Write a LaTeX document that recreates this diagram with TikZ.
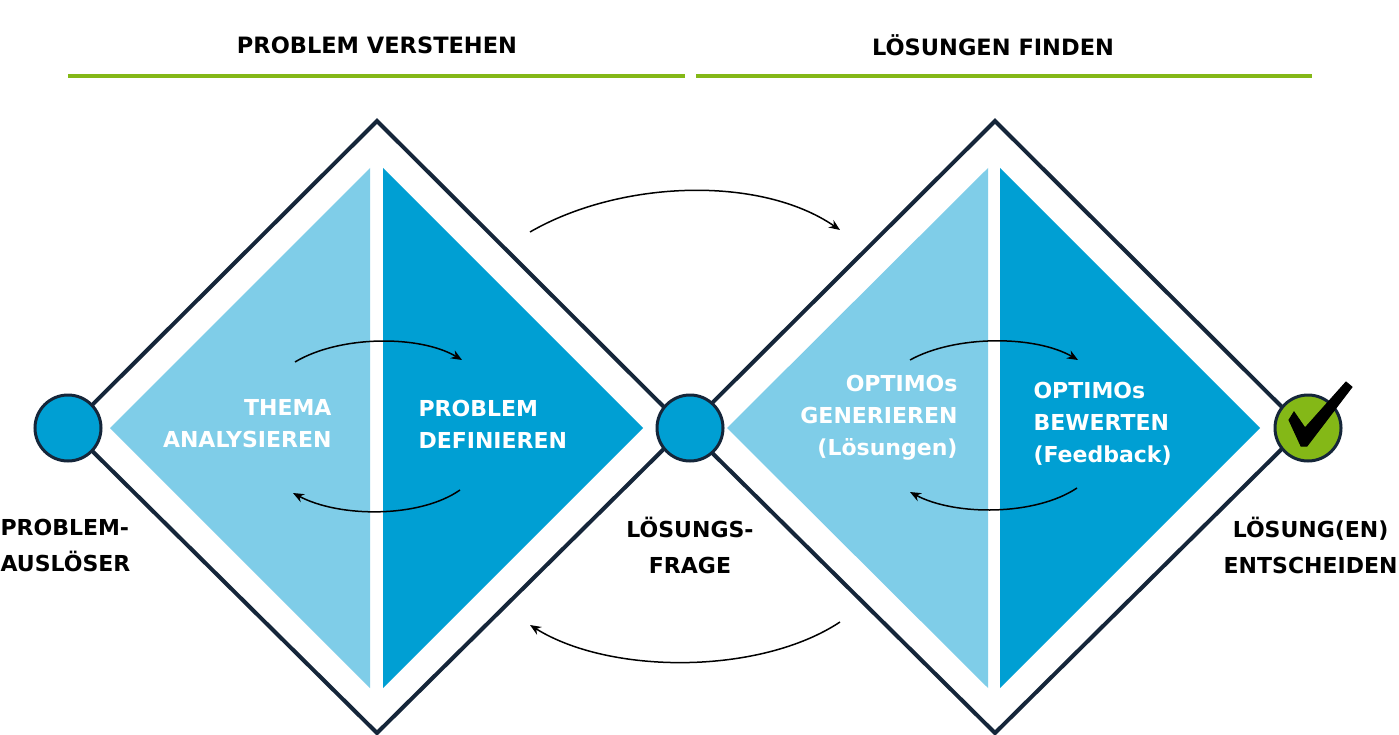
\documentclass[tikz,border=0pt]{standalone}
\usepackage{fontspec}
\setmainfont{DejaVu Sans}
\usetikzlibrary{arrows.meta}
\definecolor{lb}{HTML}{7FCDE8}
\definecolor{db}{HTML}{009FD3}
\definecolor{nv}{HTML}{15263A}
\definecolor{gr}{HTML}{84B817}
\begin{document}
\begin{tikzpicture}[x=1pt,y=-1pt,
  outl/.style={draw=nv,line width=4pt,fill=white},
  dot/.style={circle,draw=nv,line width=3pt,fill=db,minimum size=66pt,inner sep=0},
  intext/.style={text=white,font=\fontsize{22}{32}\selectfont\bfseries,align=center},
  lab/.style={text=black,font=\fontsize{22}{36}\selectfont\bfseries,align=left},
  head/.style={font=\fontsize{22.5}{26}\selectfont\bfseries},
  arr/.style={line width=1.5pt,-{Stealth[length=11pt,width=9pt]}}]
\useasboundingbox (0,0) rectangle (1399,735);
\fill[white] (0,0) rectangle (1399,735);
% headings
\node[head] (h1) at (377,45) {PROBLEM VERSTEHEN};
\node[head] (h2) at (993,45) {LÖSUNGEN FINDEN};
\draw[gr,line width=4pt] (68,76) -- (685,76);
\draw[gr,line width=4pt] (696,76) -- (1312,76);
% diamonds
\draw[outl] (377,121) -- (685,428) -- (377,733) -- (69,428) -- cycle;
\draw[outl] (995,121) -- (1303,428) -- (995,733) -- (687,428) -- cycle;
\fill[lb] (110,428) -- (370,168) -- (370,688) -- cycle;
\fill[db] (383,168) -- (383,688) -- (643,428) -- cycle;
\fill[lb] (727,428) -- (988,168) -- (988,688) -- cycle;
\fill[db] (1000,168) -- (1000,688) -- (1260,428) -- cycle;
% circles
\node[dot] (c1) at (68,428) {};
\node[dot] (c2) at (690,428) {};
\node[dot,fill=gr] (c3) at (1308,428) {};
\draw[black,line width=1pt,fill=black] (1294,412) -- (1305,428) -- (1346,382) -- (1352,387) -- (1307,446) -- (1301,446) -- (1289,420) -- cycle;
% texts
\node[intext,align=right,anchor=east] (t1) at (335,424) {THEMA\\ANALYSIEREN};
\node[intext,align=left,anchor=west] (t2) at (415,424) {PROBLEM\\DEFINIEREN};
\node[intext,align=right,anchor=east] (t3) at (961,418) {OPTIMOs\\GENERIEREN\\(Lösungen)};
\node[intext,align=left,anchor=west] (t4) at (1030,424) {OPTIMOs\\BEWERTEN\\(Feedback)};
\node[lab,anchor=west] (l1) at (-3,545) {PROBLEM-\\AUSLÖSER};
\node[lab,align=center] (l2) at (690,545) {LÖSUNGS-\\FRAGE};
\node[lab,align=center,anchor=east] (l3) at (1401,545) {LÖSUNG(EN)\\ENTSCHEIDEN};
% arrows
\coordinate (a1) at (530,232); \coordinate (a2) at (840,230);
\draw[arr] (a1) .. controls (620,180) and (760,175) .. (a2);
\coordinate (b1) at (840,622); \coordinate (b2) at (530,625);
\draw[arr] (b1) .. controls (760,675) and (610,675) .. (b2);
\coordinate (s1) at (295,362); \coordinate (s2) at (462,360);
\draw[arr] (s1) .. controls (340,335) and (420,335) .. (s2);
\coordinate (s3) at (460,490); \coordinate (s4) at (293,493);
\draw[arr] (s3) .. controls (420,518) and (340,518) .. (s4);
\coordinate (s5) at (910,360); \coordinate (s6) at (1078,360);
\draw[arr] (s5) .. controls (955,335) and (1035,335) .. (s6);
\coordinate (s7) at (1077,488); \coordinate (s8) at (910,492);
\draw[arr] (s7) .. controls (1035,516) and (955,516) .. (s8);
\end{tikzpicture}
\end{document}
